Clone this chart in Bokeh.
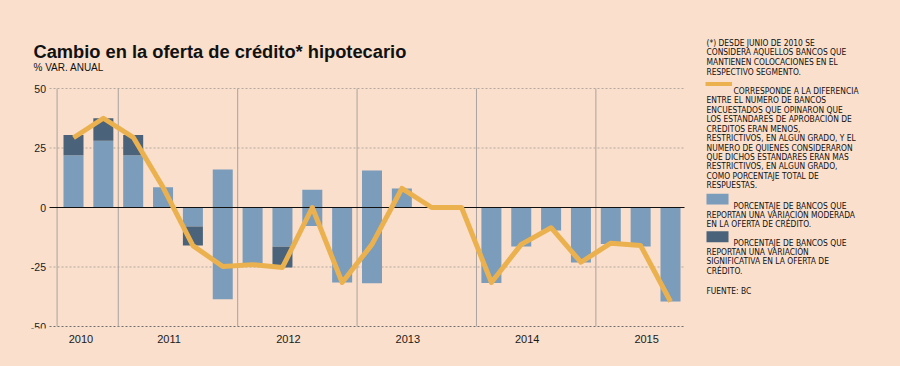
import numpy as np
from bokeh.plotting import figure
from bokeh.models import FixedTicker
from bokeh.embed import file_html
from bokeh.resources import INLINE
from bokeh.core.properties import value

# ---------------- data ----------------
quarters = ["2010T3", "2010T4",
            "2011T1", "2011T2", "2011T3", "2011T4",
            "2012T1", "2012T2", "2012T3", "2012T4",
            "2013T1", "2013T2", "2013T3", "2013T4",
            "2014T1", "2014T2", "2014T3", "2014T4",
            "2015T1", "2015T2", "2015T3"]
years = ["2010", "2011", "2012", "2013", "2014", "2015"]
year_first_quarter = [0, 2, 6, 10, 14, 18]

# % of banks: less restrictive (positive) / more restrictive (negative)
pos_moderada      = [22, 28, 22, 8.5, 0, 16, 0, 0, 7.5, 0, 15.5, 8, 0, 0, 0, 0, 0, 0, 0, 0, 0]
pos_significativa = [8.5, 9.5, 8.5, 0, 0, 0, 0, 0, 0, 0, 0, 0, 0, 0, 0, 0, 0, 0, 0, 0, 0]
neg_moderada      = [0, 0, 0, 0, -8, -38.5, -23.5, -16.5, -7.8, -31.5, -31.8, 0, 0, 0,
                     -31.7, -16.4, -9.7, -23.1, -15.3, -16.4, -39.5]
neg_significativa = [0, 0, 0, 0, -8, 0, 0, -8.7, 0, 0, 0, 0, 0, 0, 0, 0, 0, 0, 0, 0, 0]
neta              = [29.3, 37.5, 29.5, 8.5, -16, -24.8, -24, -25.2, 0, -31.5, -15.5, 8, 0, 0,
                     -31.5, -15.5, -8.5, -23, -15, -16, -39.5]
y_ticks = [-50, -25, 0, 25, 50]

title_text = "Cambio en la oferta de crédito* hipotecario"
subtitle_text = "% VAR. ANUAL"
note1 = ["(*) DESDE JUNIO DE 2010 SE",
         "CONSIDERA AQUELLOS BANCOS QUE",
         "MANTIENEN COLOCACIONES EN EL",
         "RESPECTIVO SEGMENTO."]
note2 = ["CORRESPONDE A LA DIFERENCIA",
         "ENTRE EL NUMERO DE BANCOS",
         "ENCUESTADOS QUE OPINARON QUE",
         "LOS ESTANDARES DE APROBACIÓN DE",
         "CREDITOS ERAN MENOS,",
         "RESTRICTIVOS, EN ALGUN GRADO, Y EL",
         "NUMERO DE QUIENES CONSIDERARON",
         "QUE DICHOS ESTANDARES ERAN MAS",
         "RESTRICTIVOS, EN ALGUN GRADO,",
         "COMO PORCENTAJE TOTAL DE",
         "RESPUESTAS."]
note3 = ["PORCENTAJE DE BANCOS QUE",
         "REPORTAN UNA VARIACIÓN MODERADA",
         "EN LA OFERTA DE CRÉDITO."]
note4 = ["PORCENTAJE DE BANCOS QUE",
         "REPORTAN UNA VARIACIÓN",
         "SIGNIFICATIVA EN LA OFERTA DE",
         "CRÉDITO."]
fuente = "FUENTE: BC"

# ---------------- style ----------------
BG = "#f9dfcc"
C_MOD = "#7b9cba"
C_SIG = "#4a637a"
C_LINE = "#ebb14f"
FONT = "Liberation Sans"
FONT_N = "DejaVu Sans Condensed, Liberation Sans"

W, H = 892, 358
B_BOTTOM = 30
FW, FH = W, H - B_BOTTOM
SX = 29.85   # px per quarter
SY = 2.38    # px per unit
x_start = -73 / SX
x_end = x_start + FW / SX
y_end = 207 / SY
y_start = y_end - FH / SY


def px_x(px):
    return x_start + px / SX


def px_y(py):
    return y_end - py / SY


p = figure(width=W, height=H, x_range=(x_start, x_end), y_range=(y_start, y_end),
           output_backend="svg", toolbar_location=None,
           min_border_left=0, min_border_right=0, min_border_top=0,
           min_border_bottom=B_BOTTOM)
p.background_fill_color = BG
p.border_fill_color = BG
p.outline_line_color = None
p.xgrid.visible = False
p.ygrid.visible = False
p.yaxis.visible = False

x = np.arange(len(quarters), dtype=float)
pm = np.array(pos_moderada)
ps = np.array(pos_significativa)
nm = np.array(neg_moderada)
ns = np.array(neg_significativa)

# grid
grid_left, grid_right = px_x(49), px_x(684)
for yv in [50, 25, -25]:
    p.segment(x0=[grid_left], y0=[yv], x1=[grid_right], y1=[yv],
              line_color="#b3a89f", line_dash="2 2", line_width=1)
p.segment(x0=[grid_left], y0=[-50], x1=[grid_right], y1=[-50],
          line_color="#6e6e6e", line_dash="2 2", line_width=1)

# year separators
seps = [-0.55] + [f - 0.5 for f in year_first_quarter[1:]]
p.segment(x0=seps, y0=[-50] * len(seps), x1=seps, y1=[50] * len(seps),
          line_color="#aaa39e", line_width=1)

bw = 20 / SX
p.vbar(x=x, bottom=0, top=pm, width=bw, fill_color=C_MOD, line_color=None)
p.vbar(x=x, bottom=pm, top=pm + ps, width=bw, fill_color=C_SIG, line_color=None)
p.vbar(x=x, bottom=0, top=nm, width=bw, fill_color=C_MOD, line_color=None)
p.vbar(x=x, bottom=nm, top=nm + ns, width=bw, fill_color=C_SIG, line_color=None)

# zero line
p.segment(x0=[grid_left], y0=[0], x1=[grid_right], y1=[0], line_color="#111111", line_width=1.2)

p.line(x, neta, line_color=C_LINE, line_width=5, line_join="round", line_cap="butt")

# y tick labels (values on the chart's own scale)
p.text(x=[px_x(45.5)] * len(y_ticks), y=y_ticks, text=[str(t) for t in y_ticks],
       text_font=value(FONT), text_font_size="10.5px", text_align="right",
       text_baseline="middle", text_color="#1a1a1a")

# x axis with year labels
year_pos = [0.25] + [f + 1.2 for f in year_first_quarter[1:]]
p.xaxis.ticker = FixedTicker(ticks=year_pos)
p.xaxis.major_label_overrides = {pos: yr for pos, yr in zip(year_pos, years)}
p.xaxis.axis_line_color = None
p.xaxis.major_tick_line_color = None
p.xaxis.minor_tick_line_color = None
p.xaxis.major_tick_out = 0
p.xaxis.major_tick_in = 0
p.xaxis.minor_tick_out = 0
p.xaxis.major_label_standoff = 6
p.xaxis.major_label_text_font = FONT
p.xaxis.major_label_text_font_size = "11px"
p.xaxis.major_label_text_color = "#1a1a1a"

# title
p.text(x=[px_x(33)], y=[px_y(50.7)], text=[title_text], text_font=value(FONT),
       text_font_style="bold", text_font_size="18.3px", text_baseline="alphabetic",
       text_align="left", text_color="#111111")
p.text(x=[px_x(33)], y=[px_y(66.7)], text=[subtitle_text], text_font=value(FONT),
       text_font_size="10px", text_baseline="alphabetic", text_align="left",
       text_color="#111111")


def note(lines, first_x, other_x, base, pitch=9.45):
    xs = [px_x(first_x)] + [px_x(other_x)] * (len(lines) - 1)
    ys = [px_y(base + i * pitch) for i in range(len(lines))]
    p.text(x=xs, y=ys, text=lines, text_font=value(FONT_N), text_font_size="8.4px",
           text_baseline="alphabetic", text_align="left", text_color="#111111")


note(note1, 706, 706, 42, 9.8)
note(note2, 733, 706, 90.3)
note(note3, 733, 706, 205, 9.35)
note(note4, 733, 706, 242.7, 9.1)
note([fuente], 706, 706, 290.3)

# legend swatches
p.quad(left=[px_x(705)], right=[px_x(731.5)], bottom=[px_y(85.5)], top=[px_y(81.5)],
       fill_color=C_LINE, line_color=None)
p.quad(left=[px_x(706)], right=[px_x(728)], bottom=[px_y(204)], top=[px_y(193.3)],
       fill_color=C_MOD, line_color=None)
p.quad(left=[px_x(706)], right=[px_x(728)], bottom=[px_y(241.7)], top=[px_y(230.7)],
       fill_color=C_SIG, line_color=None)

open("out.html", "w").write(file_html(p, INLINE).replace(
    "<head>", "<head><style>body{background:%s;}</style>" % BG, 1))
